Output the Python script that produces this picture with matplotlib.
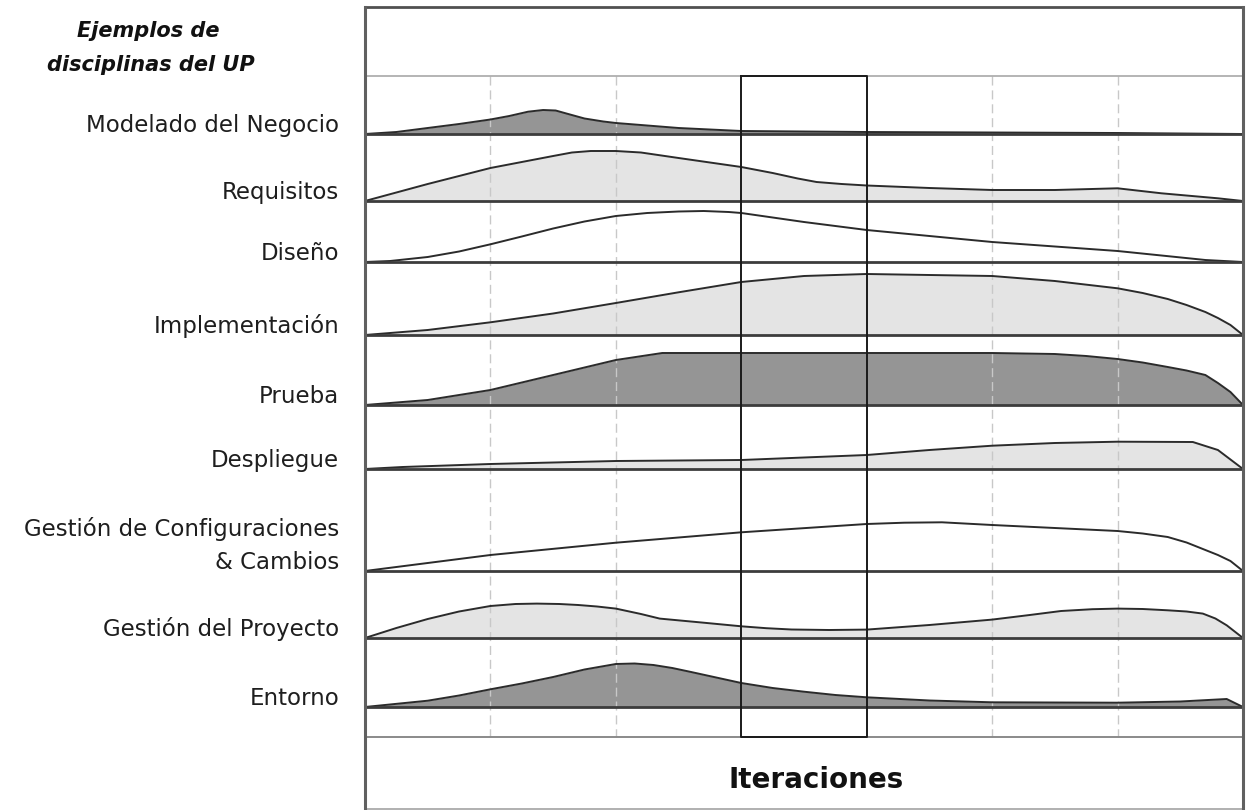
import matplotlib.pyplot as plt
from matplotlib.transforms import blended_transform_factory

# disciplinas (de arriba a abajo) y su relleno
disciplinas = ["Modelado del Negocio", "Requisitos", "Diseño", "Implementación",
               "Prueba", "Despliegue", "Gestión de Configuraciones\n& Cambios",
               "Gestión del Proyecto", "Entorno"]
tono = ["oscuro", "claro", "blanco", "claro", "oscuro", "claro", "blanco", "claro", "oscuro"]

# esfuerzo de cada disciplina a lo largo de las 7 iteraciones (alto en px)
modelado_x = [0, 0.25, 0.5, 0.75, 1.0, 1.15, 1.3, 1.42, 1.52, 1.62, 1.75, 1.9, 2.0, 2.25, 2.5, 3.0, 4.0, 5.0, 6.0, 7.0]
modelado_h = [0, 2, 6, 10, 14.5, 18, 22.3, 24, 23.5, 20, 15.5, 12.5, 11, 8.5, 6, 3, 2, 1.5, 1, 0]
requisitos_x = [0, 0.5, 1.0, 1.25, 1.5, 1.65, 1.8, 2.0, 2.2, 2.5, 2.75, 3.0, 3.25, 3.45, 3.6, 3.8, 4.0,
                4.5, 5.0, 5.5, 6.0, 6.35, 6.8, 7.0]
requisitos_h = [0, 17, 33, 39, 45, 48.5, 50, 50, 48.5, 43, 38.5, 34, 28, 22.5, 19, 17, 15.5,
                13, 11, 11, 12.7, 7.7, 2.7, 0]
diseno_x = [0, 0.2, 0.5, 0.75, 1.0, 1.25, 1.5, 1.75, 2.0, 2.25, 2.5, 2.7, 2.9, 3.0, 3.25, 3.5, 4.0,
            5.0, 6.0, 6.7, 7.0]
diseno_h = [0, 1, 5, 10.5, 17.7, 25.5, 33.5, 40.5, 46, 49, 50.5, 51, 50, 49, 44.5, 40, 32,
            20, 11, 2, 0]
implementacion_x = [0, 0.5, 1.0, 1.5, 2.0, 2.5, 3.0, 3.5, 4.0, 4.5, 5.0, 5.5, 6.0, 6.2, 6.4, 6.55,
                    6.7, 6.8, 6.9, 7.0]
implementacion_h = [0, 5, 12.7, 21.5, 32, 42.7, 53, 59, 61, 60, 59, 54, 46.7, 42, 36, 30,
                    23, 17, 10, 0]
prueba_x = [0, 0.5, 1.0, 1.5, 2.0, 2.37, 3.0, 4.0, 5.0, 5.5, 5.75, 6.0, 6.2, 6.4, 6.55, 6.7, 6.8, 6.9, 7.0]
prueba_h = [0, 5, 15, 30, 45, 52, 52, 52, 52, 51, 49, 46, 42.5, 38, 34.5, 30, 22, 13, 0]
despliegue_x = [0, 0.3, 1.0, 2.0, 3.0, 4.0, 4.5, 5.0, 5.5, 6.0, 6.6, 6.8, 7.0]
despliegue_h = [0, 2, 5, 8, 9, 14, 19, 23.3, 26, 27.3, 27, 19, 0]
configuraciones_x = [0, 1.0, 2.0, 3.0, 4.0, 4.3, 4.6, 5.0, 5.5, 6.0, 6.2, 6.4, 6.55, 6.7, 6.8, 6.9, 7.0]
configuraciones_h = [0, 16, 28.3, 38.7, 47, 48.3, 48.7, 46, 43, 40, 37.5, 34, 28.5, 21, 16, 10, 0]
proyecto_x = [0, 0.25, 0.5, 0.75, 1.0, 1.2, 1.37, 1.55, 1.7, 1.85, 2.0, 2.2, 2.35, 2.7, 3.0, 3.2, 3.4,
              3.7, 4.0, 4.5, 5.0, 5.3, 5.55, 5.8, 6.0, 6.2, 6.4, 6.55, 6.68, 6.78, 6.87, 7.0]
proyecto_h = [0, 10, 19, 26.5, 32, 34, 34.4, 34, 33, 31.5, 29.4, 24, 19.4, 15.3, 11.7, 9.8, 8.5,
              8, 8.4, 13, 18.4, 23, 27, 28.8, 29.4, 29, 27.7, 26.5, 24.4, 19.5, 12.7, 0]
entorno_x = [0, 0.5, 0.75, 1.0, 1.25, 1.5, 1.75, 2.0, 2.15, 2.3, 2.45, 2.6, 2.8, 3.0, 3.25, 3.5, 3.75,
             4.0, 4.5, 5.0, 6.0, 6.5, 6.87, 7.0]
entorno_h = [0, 6.3, 11.5, 17.7, 23.5, 30, 37.5, 43, 43.5, 42, 39, 35, 29.5, 24, 19, 15.3, 12,
             9.7, 6.5, 4.7, 4.3, 5.5, 8, 0]

curvas_x = [modelado_x, requisitos_x, diseno_x, implementacion_x, prueba_x,
            despliegue_x, configuraciones_x, proyecto_x, entorno_x]
curvas_h = [modelado_h, requisitos_h, diseno_h, implementacion_h, prueba_h,
            despliegue_h, configuraciones_h, proyecto_h, entorno_h]

# layout (pixeles de la figura)
W, H = 1247, 810
base_y = [134, 201, 262, 335, 405, 469, 571, 638, 707]
top_y, head_y, foot_y, bottom_y = 7, 76, 737, 809
colores = {"oscuro": "#959595", "claro": "#e4e4e4", "blanco": "white"}
linea = "#2b2b2b"

fig = plt.figure(figsize=(W / 100, H / 100), dpi=100)
ax = fig.add_axes([365 / W, 0, (1243 - 365) / W, 1])
ax.set_xlim(0, 7)
ax.set_ylim(H, 0)
ax.axis("off")

# guias discontinuas entre iteraciones
for xv in [1, 2, 5, 6]:
    ax.plot([xv, xv], [head_y, foot_y], color="#c8c8c8", lw=1, dashes=(6.5, 3.5), zorder=3)

for x, h, y0, t in zip(curvas_x, curvas_h, base_y, tono):
    y = [y0 - v for v in h]
    ax.fill_between(x, y, y0, color=colores[t], lw=0, zorder=2)
    ax.plot(x, y, color=linea, lw=1.4, zorder=4, solid_joinstyle="round")
    ax.plot([0, 7], [y0, y0], color="#3c3c3c", lw=2.0, zorder=5)

# iteracion resaltada
ax.plot([3, 3, 4, 4, 3], [head_y, foot_y, foot_y, head_y, head_y], color="#1a1a1a", lw=1.4, zorder=6)

# marco
ax.plot([0, 7], [head_y, head_y], color="#a8a8a8", lw=1.2, zorder=5)
ax.plot([0, 7], [foot_y, foot_y], color="#8a8a8a", lw=1.4, zorder=5)
ax.plot([0, 7], [top_y, top_y], color="#505050", lw=2.0, clip_on=False, zorder=7)
ax.plot([0, 7], [bottom_y, bottom_y], color="#b0b0b0", lw=1.4, clip_on=False, zorder=7)
ax.plot([0, 0], [top_y, bottom_y], color="#606060", lw=2.2, clip_on=False, zorder=7)
ax.plot([7, 7], [top_y, bottom_y], color="#606060", lw=2.2, clip_on=False, zorder=7)

# etiquetas
tr = blended_transform_factory(fig.transFigure, ax.transData)
for nombre, y0 in zip(disciplinas, base_y):
    lineas = nombre.split("\n")
    for k, txt in enumerate(reversed(lineas)):
        ax.text(339 / W, y0 - 2 - 33 * k, txt, transform=tr, ha="right", va="baseline",
                fontsize=16.5, color="#1e1e1e")

ax.text(148 / W, 37, "Ejemplos de", transform=tr, ha="center", va="baseline",
        fontsize=15, fontweight="bold", style="italic", color="#111111")
ax.text(151 / W, 71, "disciplinas del UP", transform=tr, ha="center", va="baseline",
        fontsize=15, fontweight="bold", style="italic", color="#111111")

ax.text(3.6, 788, "Iteraciones", ha="center", va="baseline", fontsize=20,
        fontweight="bold", color="#111111")

fig.savefig("out.png", dpi=100)
plt.close("all")
